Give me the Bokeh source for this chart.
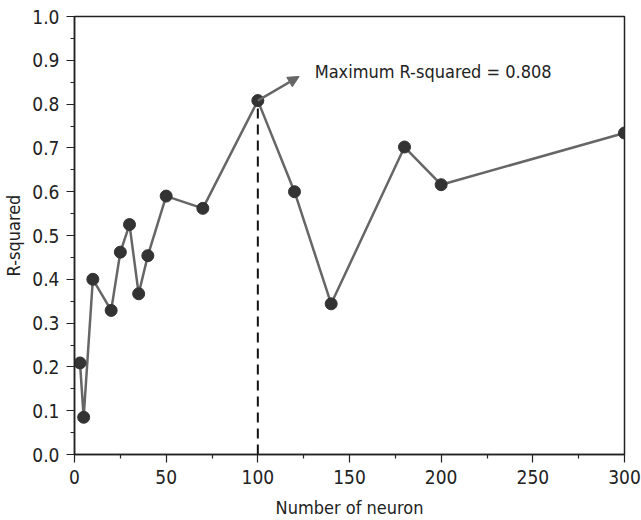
from bokeh.plotting import figure
from bokeh.models import (FixedTicker, PrintfTickFormatter, Range1d, Arrow, NormalHead,
                          Label)
from bokeh.embed import file_html
from bokeh.resources import INLINE

neurons = [3, 5, 10, 20, 25, 30, 35, 40, 50, 70, 100, 120, 140, 180, 200, 300]
r_squared = [0.209, 0.085, 0.400, 0.329, 0.462, 0.525, 0.367, 0.454, 0.590, 0.562,
             0.808, 0.600, 0.344, 0.702, 0.616, 0.734]
x_ticks = [0, 50, 100, 150, 200, 250, 300]
x_minor = [25, 75, 125, 175, 225, 275]
y_ticks = [0.0, 0.1, 0.2, 0.3, 0.4, 0.5, 0.6, 0.7, 0.8, 0.9, 1.0]
y_minor = [0.05, 0.15, 0.25, 0.35, 0.45, 0.55, 0.65, 0.75, 0.85, 0.95]
max_x = 100
max_r = 0.808
annot_text = "Maximum R-squared = 0.808"

FONT = "'Liberation Sans Narrow', 'DejaVu Sans Condensed', 'Roboto', sans-serif"

p = figure(frame_width=550, frame_height=438, output_backend="svg", toolbar_location=None,
           x_range=Range1d(0, 300), y_range=Range1d(0, 1.0),
           min_border_left=74, min_border_top=16, min_border_right=17, min_border_bottom=66)
p.grid.visible = False
p.background_fill_color = "white"
p.outline_line_color = "#222222"
p.outline_line_width = 1.5

p.xaxis.ticker = FixedTicker(ticks=x_ticks, minor_ticks=x_minor)
p.yaxis.ticker = FixedTicker(ticks=y_ticks, minor_ticks=y_minor)
p.yaxis.formatter = PrintfTickFormatter(format="%.1f")
p.xaxis.axis_label = "Number of neuron"
p.yaxis.axis_label = "R-squared"
for ax in (p.xaxis, p.yaxis):
    ax.axis_line_color = "#222222"
    ax.axis_line_width = 1.5
    ax.major_tick_line_color = "#222222"
    ax.minor_tick_line_color = "#222222"
    ax.major_tick_line_width = 1.2
    ax.minor_tick_line_width = 1.2
    ax.major_tick_out = 8
    ax.major_tick_in = 0
    ax.minor_tick_out = 4
    ax.minor_tick_in = 0
    ax.major_label_text_font = FONT
    ax.major_label_text_font_size = "19px"
    ax.major_label_text_color = "#222222"
    ax.axis_label_text_font = FONT
    ax.axis_label_text_font_size = "18px"
    ax.axis_label_text_font_style = "normal"
    ax.axis_label_text_color = "#222222"
p.xaxis.major_label_standoff = 7
p.yaxis.major_label_standoff = 7
p.xaxis.axis_label_standoff = 10
p.yaxis.axis_label_standoff = 5

p.segment(x0=[max_x], y0=[0], x1=[max_x], y1=[max_r], line_color="#111111",
          line_width=2, line_dash="10 6")

p.line(neurons, r_squared, line_color="#666666", line_width=2.5)
p.scatter(neurons, r_squared, size=12, fill_color="#333333", line_color="#333333")

p.add_layout(Arrow(x_start=max_x, y_start=max_r, x_end=122.5, y_end=0.863,
                   line_color="#666666", line_width=2.5,
                   end=NormalHead(size=11, fill_color="#666666", line_color="#666666")))
p.add_layout(Label(x=131, y=0.874, text=annot_text, text_font=FONT,
                   text_font_size="18px", text_color="#222222", text_baseline="middle"))

open("out.html", "w").write(file_html(p, INLINE))
